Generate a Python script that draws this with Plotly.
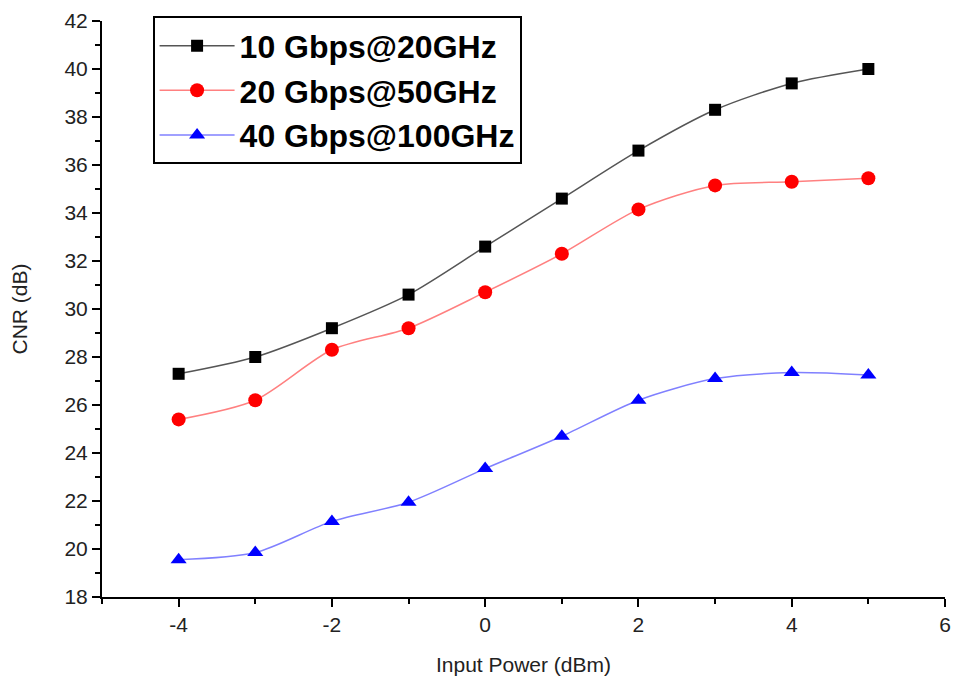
import plotly.graph_objects as go

x_vals = [-4, -3, -2, -1, 0, 1, 2, 3, 4, 5]
cnr_10g = [27.3, 28.0, 29.2, 30.6, 32.6, 34.6, 36.6, 38.3, 39.4, 40.0]
cnr_20g = [25.4, 26.2, 28.3, 29.2, 30.7, 32.3, 34.15, 35.15, 35.3, 35.45]
cnr_40g = [19.55, 19.85, 21.15, 21.95, 23.35, 24.7, 26.2, 27.1, 27.35, 27.25]
names = ["10 Gbps@20GHz", "20 Gbps@50GHz", "40 Gbps@100GHz"]
x_ticks = [-4, -2, 0, 2, 4, 6]
x_ticklabels = ["-4", "-2", "0", "2", "4", "6"]
y_ticks = [18, 20, 22, 24, 26, 28, 30, 32, 34, 36, 38, 40, 42]

fig = go.Figure()
styles = [("#555555", "black", "square"), ("#ff8080", "red", "circle"), ("#8080ff", "blue", "triangle-up")]
for ys, name, (lc, mc, sym) in zip([cnr_10g, cnr_20g, cnr_40g], names, styles):
    fig.add_trace(go.Scatter(
        x=x_vals, y=ys, name=name, mode="lines+markers",
        line=dict(color=lc, width=1.5, shape="spline", smoothing=0.8),
        marker=dict(color=mc, symbol=sym, size=14 if sym != "square" else 12),
    ))

font_f = "Arial, Liberation Sans"
axis_common = dict(
    showline=True, linecolor="black", linewidth=2,
    ticks="outside", ticklen=8, tickwidth=2, tickcolor="black",
    showgrid=False, zeroline=False, mirror=False, automargin=False,
    ticklabeloverflow="allow",
    tickfont=dict(family=font_f, size=21, color="#222"),
    minor=dict(ticks="outside", ticklen=5, tickwidth=2, tickcolor="black", dtick=1),
)

fig.update_xaxes(range=[-5, 6], tickvals=x_ticks, ticktext=x_ticklabels,
                 title=dict(text="Input Power (dBm)", font=dict(family=font_f, size=21, color="#222"), standoff=22),
                 **axis_common)
fig.update_yaxes(range=[18, 42], tickvals=y_ticks,
                 title=dict(text="CNR (dB)", font=dict(family=font_f, size=21, color="#222"), standoff=44),
                 **axis_common)

fig.update_layout(
    width=945, height=669,
    margin=dict(l=94, r=8, t=11, b=80),
    plot_bgcolor="white", paper_bgcolor="white",
    legend=dict(x=0.06, y=1.008, xanchor="left", yanchor="top",
                bordercolor="black", borderwidth=2, bgcolor="white",
                font=dict(family=font_f, size=32, color="black", weight="bold"),
                itemwidth=75, tracegroupgap=0),
    showlegend=True,
)

fig.write_html("out.html")
